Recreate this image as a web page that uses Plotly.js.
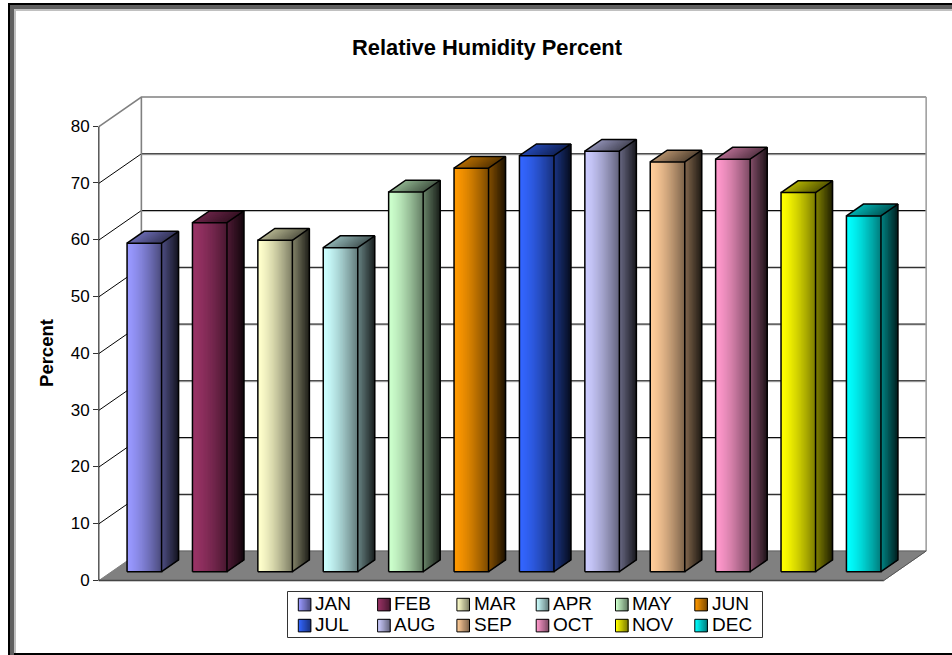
<!DOCTYPE html>
<html>
<head>
<meta charset="utf-8">
<script src="https://cdn.plot.ly/plotly-3.0.1.min.js"></script>
<style>html,body{margin:0;padding:0;background:#fff;overflow:hidden}</style>
</head>
<body>
<div id="chart" style="width:952px;height:655px"></div>
<script>
var months = ['JAN','FEB','MAR','APR','MAY','JUN','JUL','AUG','SEP','OCT','NOV','DEC'];
var humidity = [57.9,61.5,58.4,57.1,66.9,71.1,73.3,74.1,72.2,72.7,66.8,62.7];
var baseColors = [[153,153,255],[153,51,102],[255,255,204],[204,255,255],[204,255,204],[255,153,0],
                  [51,102,255],[204,204,255],[255,204,153],[255,153,204],[255,255,0],[0,255,255]];
var yTicks = [0,10,20,30,40,50,60,70,80];

var W = 952, H = 655, ML = 99, MR = 25, MT = 126, MB = 75;
var PW = W - ML - MR, PH = H - MT - MB;
var XMIN = -0.693, XMAX = 11.968, YMAX = 80;
var DX = 0.65, DY = 5.2, YOFF = 0.1, D0 = 0.3, D1 = 0.7, HALF = 0.264;
var FLOOR_L = -0.5, FLOOR_R = 11.5;

function pos(x, v, d) { return [x + (d - D0) * DX, v + d * DY - YOFF]; }
function pxX(x) { return ML + (x - XMIN) / (XMAX - XMIN) * PW; }
function pyY(y) { return H - MB - y / YMAX * PH; }
function paperX(px) { return (px - ML) / PW; }
function paperY(py) { return (H - MB - py) / PH; }
function shade(c, k) { return 'rgb(' + c.map(function (a) { return Math.round(a * k); }).join(',') + ')'; }
function lerp(a, b, t) { return a + (b - a) * t; }

var traces = [], shapes = [], annotations = [];

/* ---------- walls and floor ---------- */
function seg(pts, color, width, fill) {
  var d = pts.map(function (p, i) {
    return (i ? 'L' : 'M') + paperX(pxX(p[0])) + ',' + paperY(pyY(p[1]));
  }).join('') + (fill ? 'Z' : '');
  var s = { type: 'path', xref: 'paper', yref: 'paper', path: d, layer: 'below',
            line: { color: color, width: width } };
  if (fill) s.fillcolor = fill;
  return s;
}
yTicks.forEach(function (t) {
  if (t === 0) return;
  var top = t === YMAX;
  var col = top ? '#808080' : '#000000';
  var w = top ? 1.6 : 1;
  if (!top) {
    var sh = 1 / PH * YMAX;
    shapes.push(seg([pos(FLOOR_L, t - sh, 1), pos(FLOOR_R, t - sh, 1)], '#c0c0c0', 1));
  }
  shapes.push(seg([pos(FLOOR_L, t, 0), pos(FLOOR_L, t, 1), pos(FLOOR_R, t, 1)], col, w));
});
shapes.push(seg([pos(FLOOR_L, 0, 1), pos(FLOOR_L, YMAX, 1)], '#808080', 1.6));
shapes.push(seg([pos(FLOOR_R, 0, 1), pos(FLOOR_R, YMAX, 1)], '#a0a0a0', 1.6));
shapes.push(seg([pos(FLOOR_L, 0, 0), pos(FLOOR_R, 0, 0), pos(FLOOR_R, 0, 1), pos(FLOOR_L, 0, 1)],
                '#808080', 1, '#808080'));
shapes.push(seg([pos(FLOOR_L, 0, 1), pos(FLOOR_R, 0, 1)], '#666666', 1));
shapes.push(seg([pos(FLOOR_R, 0, 0), pos(FLOOR_R, 0, 1)], '#555555', 1));
shapes.push(seg([pos(FLOOR_L, 0, 0), pos(FLOOR_R, 0, 0)], '#444444', 1.4));
shapes.push(seg([pos(FLOOR_L, 0, 0), pos(FLOOR_L, YMAX, 0)], '#000000', 1));

/* ---------- front faces: one real bar trace, painted left to right ---------- */
var FRONT_STRIPS = 35, SIDE_STRIPS = 12, TOP_STRIPS = 18;
var bx = [], by = [], bw = [], bc = [], bb = [];
humidity.forEach(function (v, i) {
  for (var s = 0; s < FRONT_STRIPS; s++) {
    var t = s / FRONT_STRIPS;
    var l = lerp(i - HALF, i + HALF, t), r = i + HALF;
    bx.push((l + r) / 2); bw.push(r - l); by.push(v); bb.push(pos(i, 0, D0)[1]);
    bc.push(shade(baseColors[i], lerp(1, 0.47, Math.pow(t, 1.4))));
  }
});
traces.push({ type: 'bar', x: bx, y: by, base: bb, width: bw,
  marker: { color: bc, line: { width: 0 } }, hoverinfo: 'skip', showlegend: false });

/* ---------- side and top faces ---------- */
function poly(pts, color) {
  traces.push({ type: 'scatter', mode: 'none', fill: 'toself', fillcolor: color,
    x: pts.map(function (p) { return p[0]; }).concat(pts[0][0]),
    y: pts.map(function (p) { return p[1]; }).concat(pts[0][1]),
    hoverinfo: 'skip', showlegend: false });
}
humidity.forEach(function (v, i) {
  var c = baseColors[i], R = i + HALF, L = i - HALF, s, t;
  for (s = 0; s < SIDE_STRIPS; s++) {
    t = s / SIDE_STRIPS;
    var d = lerp(D0, D1, t);
    poly([pos(R, 0, d), pos(R, 0, D1), pos(R, v, D1), pos(R, v, d)], shade(c, lerp(0.5, 0.1, t)));
  }
  for (s = 0; s < TOP_STRIPS; s++) {
    t = s / TOP_STRIPS;
    var x0 = lerp(L, R, t);
    poly([pos(x0, v, D0), pos(R, v, D0), pos(R, v, D1), pos(x0, v, D1)], shade(c, lerp(0.68, 0.34, t)));
  }
});

/* ---------- bar outlines ---------- */
var ox = [], oy = [];
function addLine(a) {
  a.forEach(function (p) { ox.push(p[0]); oy.push(p[1]); });
  ox.push(null); oy.push(null);
}
humidity.forEach(function (v, i) {
  var R = i + HALF, L = i - HALF;
  addLine([pos(L, 0, D0), pos(R, 0, D0), pos(R, v, D0), pos(L, v, D0), pos(L, 0, D0)]);
  addLine([pos(L, v, D0), pos(L, v, D1), pos(R, v, D1), pos(R, v, D0)]);
  addLine([pos(R, 0, D0), pos(R, 0, D1), pos(R, v, D1)]);
});
traces.push({ type: 'scatter', mode: 'lines', x: ox, y: oy, connectgaps: false,
  line: { color: '#000000', width: 1.5 }, hoverinfo: 'skip', showlegend: false });

/* ---------- page frame ---------- */
function rect(x0, y0, x1, y1, color, layer) {
  shapes.push({ type: 'rect', xref: 'paper', yref: 'paper', layer: layer || 'above',
    x0: paperX(x0), x1: paperX(x1), y0: paperY(y0), y1: paperY(y1),
    fillcolor: color, line: { width: 0 } });
}
rect(14, 9, 16, 655, '#c0c0c0');
rect(14, 9, 952, 11, '#c0c0c0');
rect(10, 5, 14, 655, '#606060');
rect(10, 5, 952, 9, '#606060');
rect(8, 3, 10, 655, '#000000');
rect(8, 3, 952, 5, '#000000');
rect(14, 653, 952, 655, '#000000');

/* ---------- legend ---------- */
var LEG_X = 298.3, LEG_Y = 598.3, LEG_DX = 79.3, LEG_DY = 21, SW = 12.6;
shapes.push({ type: 'rect', xref: 'paper', yref: 'paper', layer: 'above',
  x0: paperX(287.5), x1: paperX(762.5), y0: paperY(591.5), y1: paperY(637.5),
  fillcolor: '#ffffff', line: { color: '#333333', width: 1 } });
months.forEach(function (m, i) {
  var col = i % 6, row = Math.floor(i / 6);
  var x = LEG_X + col * LEG_DX, y = LEG_Y + row * LEG_DY;
  for (var s = 0; s < 10; s++) {
    rect(x + s / 10 * SW, y, x + SW, y + SW, shade(baseColors[i], lerp(1, 0.45, s / 10)));
  }
  shapes.push({ type: 'rect', xref: 'paper', yref: 'paper', layer: 'above',
    x0: paperX(x), x1: paperX(x + SW), y0: paperY(y), y1: paperY(y + SW),
    fillcolor: 'rgba(0,0,0,0)', line: { color: '#000000', width: 1 } });
  annotations.push({ xref: 'paper', yref: 'paper', x: paperX(x + 15.7), y: paperY(y + SW / 2 - 0.8),
    xanchor: 'left', yanchor: 'middle', showarrow: false, text: m, borderpad: 0,
    font: { family: 'Liberation Sans', size: 19, color: '#000000' } });
});

var layout = {
  width: W, height: H,
  margin: { l: ML, r: MR, t: MT, b: MB, pad: 0 },
  paper_bgcolor: '#ffffff', plot_bgcolor: 'rgba(0,0,0,0)',
  barmode: 'overlay', showlegend: false, hovermode: false,
  font: { family: 'Liberation Sans', color: '#000000' },
  title: { text: 'Relative Humidity Percent', xref: 'container', yref: 'container',
           x: 487 / W, y: 1 - 47.5 / H, xanchor: 'center', yanchor: 'middle',
           font: { family: 'Liberation Sans', size: 21.9, weight: 700, color: '#000000' } },
  xaxis: { range: [XMIN, XMAX], showgrid: false, zeroline: false, showline: false,
           showticklabels: false, ticks: '', fixedrange: true },
  yaxis: { range: [0, YMAX], tickvals: yTicks, ticktext: yTicks.map(String), ticks: 'outside', ticklen: 5,
           tickwidth: 1, tickcolor: '#333333', showgrid: false, zeroline: false, showline: false,
           fixedrange: true, tickfont: { family: 'Liberation Sans', size: 17, color: '#000000' },
           title: { text: 'Percent', standoff: 12,
                    font: { family: 'Liberation Sans', size: 18.5, weight: 700, color: '#000000' } } },
  shapes: shapes, annotations: annotations
};
Plotly.newPlot('chart', traces, layout, { displayModeBar: false, staticPlot: true });
</script>
</body>
</html>
